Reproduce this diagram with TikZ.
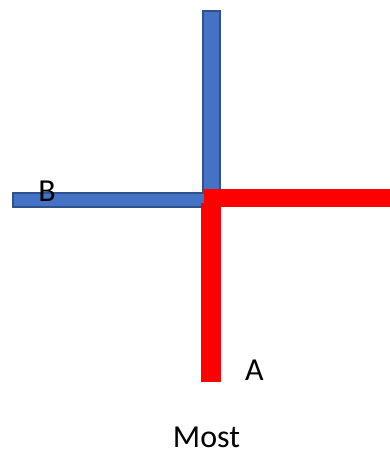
\documentclass[tikz,border=0pt]{standalone}
\usepackage{fontspec}
\setmainfont{Carlito}
\usepackage{tikz}
\usetikzlibrary{positioning}
\definecolor{azulbarra}{RGB}{68, 114, 196}
\definecolor{azulborde}{RGB}{47, 82, 143}
\definecolor{rojobarra}{RGB}{255, 0, 0}

\begin{document}
\begin{tikzpicture}[
		x=1pt, y=-1pt,                              % Unidades en pixeles
		barraazul/.style = {
			fill=azulbarra,
			draw=azulborde,
			line width=2pt
		},
		barraroja/.style = {
			fill=rojobarra,
			draw=none
		},
		etiqueta/.style = {
			anchor=base,
			inner sep=0pt,
			font=\fontsize{32}{36}\selectfont
		}
		]
		
		\useasboundingbox (0,0) rectangle (390,455);
		
		% Barras azules
		\draw[barraazul] (203,11) rectangle (220,204);
		\draw[barraazul] (13,193) rectangle (212,207);
		
		% Barras rojas
		\fill[barraroja] (204,189) rectangle (390,207);
		\fill[barraroja] (201,203) rectangle (221,382);
		
		% Etiquetas
		\node[etiqueta] (etiqB) at (47,201) {B};
		\node[etiqueta] (etiqA) at (254.5,380) {A};
		\node[etiqueta] (etiqMost) at (206.5,447) {Most};
		
	\end{tikzpicture}
\end{document}
